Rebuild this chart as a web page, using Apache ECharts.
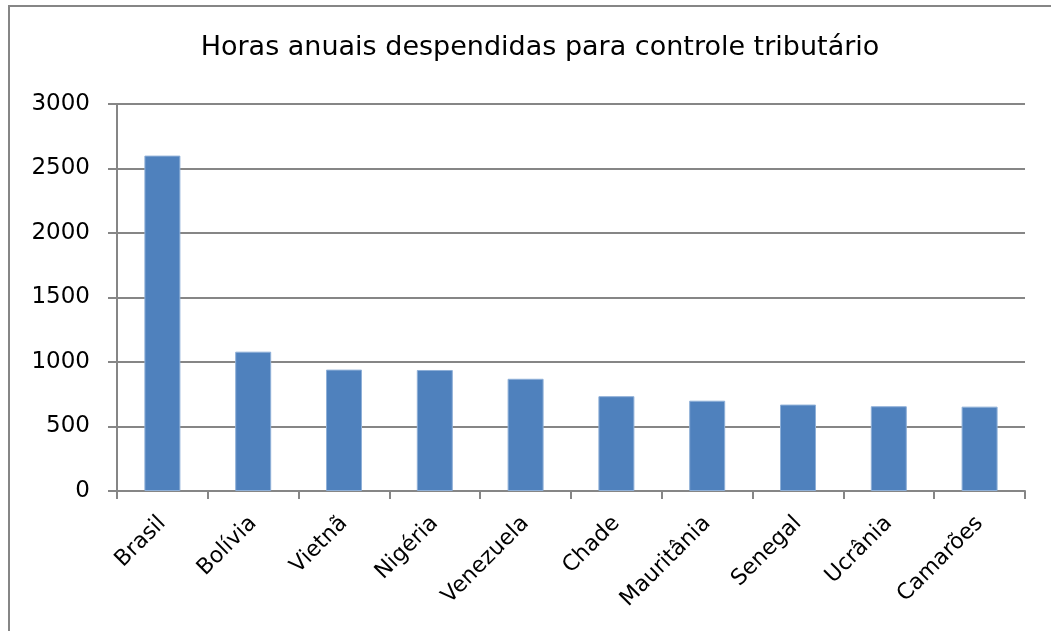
<!DOCTYPE html>
<html>
    <head>
        <title>Horas anuais despendidas para controle tributário</title>
        <meta charset="UTF-8">
        <script type="text/javascript" src="https://cdn.jsdelivr.net/npm/echarts@6/dist/echarts.min.js"></script>
        <style>
            html, body { margin: 0; padding: 0; background: #fff; }
            #container { width: 1051px; height: 631px; }
        </style>
    </head>
    <body>
        <div id="container"></div>
        <script type="text/javascript">
            var paises = ['Brasil', 'Bolívia', 'Vietnã', 'Nigéria', 'Venezuela', 'Chade', 'Mauritânia', 'Senegal', 'Ucrânia', 'Camarões'];
            var horas = [2600, 1080, 941, 938, 870, 735, 700, 670, 657, 654];
            var yTicks = [0, 500, 1000, 1500, 2000, 2500, 3000];

            var myChart = echarts.init(document.getElementById('container'));
            var eixo = '#868686';
            var option = {
                animation: false,
                textStyle: { fontFamily: 'DejaVu Sans, Arial, sans-serif' },
                title: {
                    text: 'Horas anuais despendidas para controle tributário',
                    left: 535,
                    textAlign: 'center',
                    top: 29,
                    textStyle: { color: '#000', fontSize: 27, fontWeight: 'normal', fontFamily: 'DejaVu Sans' }
                },
                graphic: [{
                    type: 'rect',
                    shape: { x: 9, y: 6, width: 1200, height: 800 },
                    style: { fill: 'none', stroke: eixo, lineWidth: 2 },
                    silent: true
                }],
                grid: { left: 117, right: 26, top: 104, bottom: 140 },
                xAxis: {
                    type: 'category',
                    data: paises,
                    axisLine: { lineStyle: { color: eixo, width: 2 } },
                    axisTick: { show: true, alignWithLabel: false, length: 8, lineStyle: { color: eixo, width: 2 } },
                    axisLabel: { interval: 0, rotate: 45, margin: 29, color: '#000', fontSize: 22, fontFamily: 'DejaVu Sans' }
                },
                yAxis: {
                    type: 'value',
                    min: yTicks[0],
                    max: yTicks[yTicks.length - 1],
                    interval: yTicks[1] - yTicks[0],
                    axisLine: { show: true, lineStyle: { color: eixo, width: 2 } },
                    axisTick: { show: true, length: 9, lineStyle: { color: eixo, width: 2 } },
                    axisLabel: {
                        margin: 27, color: '#000', fontSize: 23, fontFamily: 'DejaVu Sans',
                        formatter: function (v) { return String(v); }
                    },
                    splitLine: { lineStyle: { color: eixo, width: 2 } }
                },
                series: [{
                    name: 'Horas',
                    type: 'bar',
                    data: horas,
                    barWidth: 36,
                    itemStyle: { color: '#4f81bd', borderColor: '#8fb0d8', borderWidth: 1 }
                }]
            };
            myChart.setOption(option);
        </script>
    </body>
</html>
